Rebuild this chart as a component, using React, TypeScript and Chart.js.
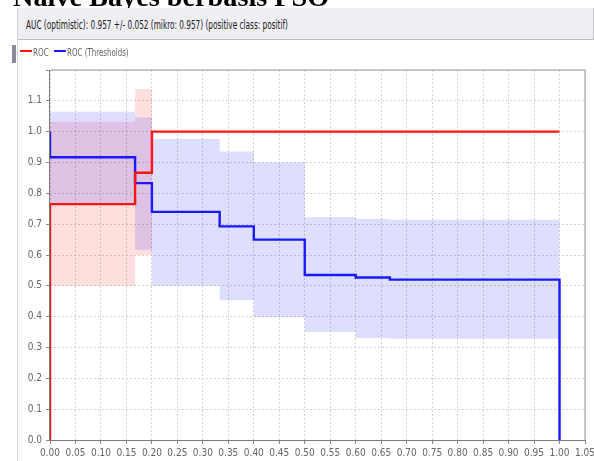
import React, { useEffect, useLayoutEffect, useRef } from "react";
import { Chart, registerables } from "chart.js";

Chart.register(...registerables);

// ROC (red) step curve
const rocX = [0, 0, 0.167, 0.2, 1.0];
const rocY = [0, 0.765, 0.867, 1.0, 1.0];
const rocBandX = [0, 0.167, 0.2];
const rocBandUpper = [1.032, 1.138, 1.138];
const rocBandLower = [0.5, 0.6, 0.6];

// ROC (Thresholds) (blue) step curve
const thrX = [0, 0, 0.167, 0.2, 0.333, 0.4, 0.5, 0.6, 0.667, 1.0, 1.0];
const thrY = [1.0, 0.917, 0.833, 0.74, 0.693, 0.65, 0.535, 0.527, 0.52, 0.52, 0];
const thrBandX = [0, 0.167, 0.2, 0.333, 0.4, 0.5, 0.6, 0.667, 1.0];
const thrBandUpper = [1.065, 1.046, 0.976, 0.936, 0.9, 0.723, 0.717, 0.714, 0.714];
const thrBandLower = [0.769, 0.617, 0.5, 0.453, 0.398, 0.35, 0.331, 0.328, 0.328];

const xMin = 0;
const xMax = 1.05;
const xStep = 0.05;
const yMin = 0;
const yMax = 1.2;
const yStep = 0.1;

const titleText = "Naive Bayes berbasis PSO";
const headerText = "AUC (optimistic): 0.957 +/- 0.052 (mikro: 0.957) (positive class: positif)";
const legendLabels = ["ROC", "ROC (Thresholds)"];

const NARROW = '"Liberation Sans Narrow","DejaVu Sans Condensed","Liberation Sans",sans-serif';

const pts = (xs: number[], ys: number[]) => xs.map((x, i) => ({ x, y: ys[i] }));

function FitText(props: { text: string; width: number; style: React.CSSProperties }) {
  const ref = useRef<HTMLSpanElement>(null);
  useLayoutEffect(() => {
    const el = ref.current;
    if (!el) return;
    el.style.transform = "none";
    const w = el.offsetWidth;
    if (w > 0) el.style.transform = `scaleX(${props.width / w})`;
  }, [props.text, props.width]);
  return (
    <span
      ref={ref}
      style={{
        display: "inline-block",
        whiteSpace: "nowrap",
        transformOrigin: "left center",
        ...props.style,
      }}
    >
      {props.text}
    </span>
  );
}

const frame = {
  id: "frame",
  afterDraw(chart: any) {
    const { ctx, chartArea } = chart;
    ctx.save();
    ctx.setLineDash([]);
    ctx.strokeStyle = "#b8b8b8";
    ctx.lineWidth = 1.5;
    ctx.beginPath();
    ctx.moveTo(chartArea.left + 1, chartArea.top);
    ctx.lineTo(chartArea.right, chartArea.top);
    ctx.lineTo(chartArea.right, chartArea.bottom);
    ctx.stroke();
    ctx.strokeStyle = "#7a7a7a";
    ctx.lineWidth = 1;
    ctx.beginPath();
    ctx.moveTo(chartArea.left - 0.5, chartArea.top);
    ctx.lineTo(chartArea.left - 0.5, chartArea.bottom + 0.5);
    ctx.lineTo(chartArea.right, chartArea.bottom + 0.5);
    ctx.stroke();
    ctx.restore();
  },
};

export default function App() {
  const canvasRef = useRef<HTMLCanvasElement>(null);

  useEffect(() => {
    const canvas = canvasRef.current;
    if (!canvas) return;
    const gridCommon = {
      color: "#d4d4d4",
      tickColor: "#888888",
      tickBorderDash: [],
      tickLength: 4,
      drawTicks: true,
    };
    const borderCommon = { display: false, dash: [2, 2] };
    const lineBase = { pointRadius: 0, stepped: "before", borderWidth: 0, borderColor: "rgba(0,0,0,0)" };
    const chart = new Chart(canvas, {
      type: "line",
      data: {
        datasets: [
          {
            ...lineBase,
            label: "ROC",
            data: pts(rocX, rocY),
            borderColor: "rgb(255,20,20)",
            borderWidth: 2.4,
            fill: false,
            order: 0,
          },
          {
            ...lineBase,
            label: "ROC (Thresholds)",
            data: pts(thrX, thrY),
            borderColor: "rgb(25,25,255)",
            borderWidth: 2.4,
            fill: false,
            order: 0,
          },
          {
            ...lineBase,
            label: "rocUpper",
            data: pts(rocBandX, rocBandUpper),
            fill: false,
            order: 3,
          },
          {
            ...lineBase,
            label: "rocLower",
            data: pts(rocBandX, rocBandLower),
            backgroundColor: "rgba(255,0,0,0.13)",
            fill: "-1",
            order: 3,
          },
          {
            ...lineBase,
            label: "thrUpper",
            data: pts(thrBandX, thrBandUpper),
            fill: false,
            order: 2,
          },
          {
            ...lineBase,
            label: "thrLower",
            data: pts(thrBandX, thrBandLower),
            backgroundColor: "rgba(0,0,255,0.13)",
            fill: "-1",
            order: 2,
          },
        ],
      },
      options: {
        animation: false,
        responsive: false,
        devicePixelRatio: 1,
        layout: { padding: { top: 70, right: 9, left: 0, bottom: 0 } },
        plugins: {
          legend: { display: false },
          tooltip: { enabled: false },
          filler: { propagate: false },
        },
        scales: {
          x: {
            type: "linear",
            min: xMin,
            max: xMax,
            afterFit: (s: any) => {
              s.height = 21;
              s.paddingLeft = 0;
              s.paddingRight = 0;
            },
            ticks: {
              stepSize: xStep,
              autoSkip: false,
              maxRotation: 0,
              padding: 3,
              color: "#666666",
              font: { family: NARROW, size: 10 },
              callback: (v: any) => Number(v).toFixed(2),
            },
            grid: gridCommon,
            border: borderCommon,
          },
          y: {
            type: "linear",
            min: yMin,
            max: yMax,
            afterFit: (s: any) => {
              s.width = 50;
              s.paddingTop = 0;
              s.paddingBottom = 0;
            },
            ticks: {
              stepSize: yStep,
              padding: 4,
              color: "#666666",
              font: { family: NARROW, size: 10 },
              callback: (v: any) => (Number(v) > 1.15 ? "" : Number(v).toFixed(1)),
            },
            grid: gridCommon,
            border: borderCommon,
          },
        },
      } as any,
      plugins: [frame],
    });
    return () => chart.destroy();
  }, []);

  return (
    <div
      style={{
        position: "absolute",
        left: 0,
        top: 0,
        width: 594,
        height: 461,
        overflow: "hidden",
        background: "#ffffff",
      }}
    >
      <canvas
        ref={canvasRef}
        width={594}
        height={461}
        style={{ position: "absolute", left: 0, top: 0, width: 594, height: 461 }}
      />
      {/* page title (cropped at the top) */}
      <div
        style={{
          position: "absolute",
          left: 13,
          top: -16,
          height: 27,
          lineHeight: "27px",
          fontFamily: '"Liberation Serif", "DejaVu Serif", serif',
          fontWeight: "bold",
          fontSize: 27,
          color: "#000",
          whiteSpace: "nowrap",
        }}
      >
        <FitText text={titleText} width={316} style={{}} />
      </div>
      {/* left panel line */}
      <div
        style={{
          position: "absolute",
          left: 17,
          top: 8,
          width: 1,
          height: 453,
          background: "#d6d6d6",
        }}
      />
      {/* header box */}
      <div
        style={{
          position: "absolute",
          left: 17,
          top: 8,
          width: 575,
          height: 31,
          background: "#eeeef3",
          borderBottom: "1px solid #bdbdc4",
          borderRight: "2px solid #c8c8cc",
          borderLeft: "1px solid #d6d6d6",
        }}
      >
        <div style={{ position: "absolute", left: 8, top: 8, height: 15, lineHeight: "15px" }}>
          <FitText
            text={headerText}
            width={262}
            style={{ fontFamily: NARROW, fontSize: 12, color: "#222" }}
          />
        </div>
      </div>
      {/* legend */}
      <div
        style={{
          position: "absolute",
          left: 12,
          top: 45,
          width: 4,
          height: 18,
          background: "#8a8a9c",
        }}
      />
      <div style={{ position: "absolute", left: 20, top: 50, width: 12, height: 2, background: "rgb(255,20,20)" }} />
      <div style={{ position: "absolute", left: 33, top: 45, height: 12, lineHeight: "12px" }}>
        <FitText text={legendLabels[0]} width={16} style={{ fontFamily: NARROW, fontSize: 10, color: "#666" }} />
      </div>
      <div style={{ position: "absolute", left: 54, top: 50, width: 12, height: 2, background: "rgb(25,25,255)" }} />
      <div style={{ position: "absolute", left: 67, top: 45, height: 12, lineHeight: "12px" }}>
        <FitText text={legendLabels[1]} width={62} style={{ fontFamily: NARROW, fontSize: 10, color: "#666" }} />
      </div>
    </div>
  );
}
